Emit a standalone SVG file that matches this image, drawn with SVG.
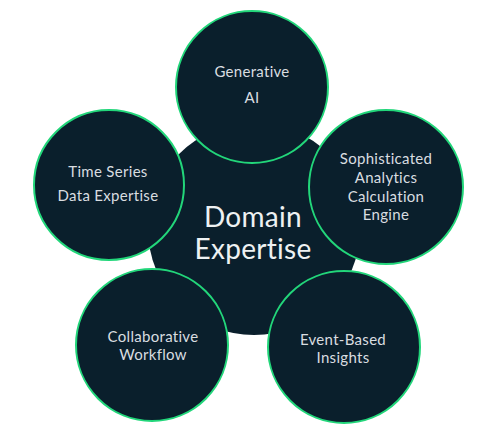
<svg xmlns="http://www.w3.org/2000/svg" width="500" height="428" viewBox="0 0 500 428">
<style>
.c{fill:#0a1f2c;stroke:#22d67a;stroke-width:2}
.hub{fill:#0a1f2c}
.t{font-family:Lato,"Liberation Sans",sans-serif;font-size:15px;letter-spacing:0.3px;fill:#d9dde0;text-anchor:middle}
.big{font-family:Lato,"Liberation Sans",sans-serif;font-size:28px;letter-spacing:0.3px;fill:#eef1f2;text-anchor:middle}
</style>
<rect width="500" height="428" fill="#ffffff"/>
<g id="connectors"/>
<g id="hub">
<circle class="hub" cx="254" cy="229" r="106"/>
<text class="big" x="253" y="227">Domain</text>
<text class="big" x="253" y="259">Expertise</text>
</g>
<g id="generative-ai">
<circle class="c" cx="252" cy="87" r="76"/>
<text class="t" x="252" y="77">Generative</text>
<text class="t" x="252" y="103">AI</text>
</g>
<g id="time-series">
<circle class="c" cx="109" cy="185" r="75"/>
<text class="t" x="108" y="177">Time Series</text>
<text class="t" x="108" y="201">Data Expertise</text>
</g>
<g id="sophisticated">
<circle class="c" cx="386" cy="187" r="77"/>
<text class="t" x="386" y="164">Sophisticated</text>
<text class="t" x="386" y="183">Analytics</text>
<text class="t" x="386" y="202">Calculation</text>
<text class="t" x="386" y="220">Engine</text>
</g>
<g id="collaborative">
<circle class="c" cx="152" cy="345" r="76"/>
<text class="t" x="153" y="342">Collaborative</text>
<text class="t" x="153" y="360">Workflow</text>
</g>
<g id="event-based">
<circle class="c" cx="344" cy="347" r="76"/>
<text class="t" x="343" y="345">Event-Based</text>
<text class="t" x="343" y="363">Insights</text>
</g>
</svg>
